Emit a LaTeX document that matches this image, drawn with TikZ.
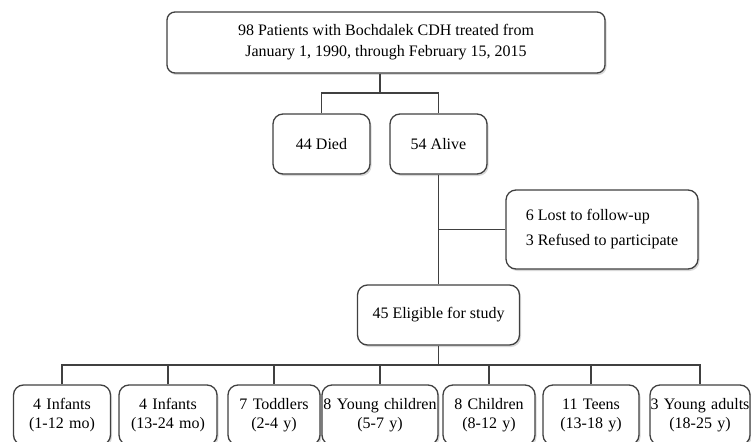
\documentclass[tikz,border=0pt]{standalone}
\usepackage{fontspec}
\setmainfont{Liberation Serif}
\usetikzlibrary{shadows}

\tikzset{
  box/.style={draw=black!75, line width=1.3pt, rounded corners=10pt, fill=white,
    drop shadow={shadow xshift=1.5pt, shadow yshift=-2pt, opacity=0.3},
    align=center, inner sep=0pt, minimum height=60pt,
    font=\fontsize{16}{21}\selectfont},
  agebox/.style={box, font=\fontsize{16}{19}\selectfont},
  link/.style={draw=black!75, line width=1.3pt},
}

\begin{document}
\begin{tikzpicture}[x=1pt,y=-1pt]
    \useasboundingbox (0,0) rectangle (751,441);

    % Cohort
    \node[box, minimum width=438pt, minimum height=61pt, rounded corners=8pt] (cohort) at (386,42.5)
        {98 Patients with Bochdalek CDH treated from\\ January 1, 1990, through February 15, 2015};

    % Outcome
    \node[box, minimum width=97pt] (died) at (321.5,144) {44 Died};
    \node[box, minimum width=97pt] (alive) at (438.5,144) {54 Alive};

    % Excluded
    \node[box, minimum width=192pt, minimum height=79pt, align=left,
          font=\fontsize{16}{25}\selectfont] (lost) at (602,229.5)
        {6 Lost to follow-up\\ 3 Refused to participate};

    % Study group
    \node[box, minimum width=162pt] (elig) at (438.5,315) {45 Eligible for study};

    % Age groups
    \node[agebox, minimum width=97pt, text width=97pt] (g1) at (62,415) {4 Infants\\ (1-12 mo)};
    \node[agebox, minimum width=98pt, text width=98pt] (g2) at (168,415) {4 Infants\\ (13-24 mo)};
    \node[agebox, minimum width=92pt, text width=92pt] (g3) at (274,415) {7 Toddlers\\ (2-4 y)};
    \node[agebox, minimum width=116pt, text width=116pt] (g4) at (380,415) {8 Young children\\ (5-7 y)};
    \node[agebox, minimum width=92pt, text width=92pt] (g5) at (489,415) {8 Children\\ (8-12 y)};
    \node[agebox, minimum width=96pt, text width=96pt] (g6) at (591,415) {11 Teens\\ (13-18 y)};
    \node[agebox, minimum width=100pt, text width=100pt] (g7) at (700,415) {3 Young adults\\ (18-25 y)};

    % Branch points
    \coordinate (split) at (380,93);
    \coordinate (bus) at (438.5,365);

    % Connectors
    \draw[link] (split |- cohort.south) -- (split);
    \draw[link] (died.north) |- (split) -| (alive.north);
    \draw[link] (alive.south) -- (elig.north);
    \draw[link] (lost.west) -- (lost.west -| alive.south);
    \draw[link] (elig.south) -- (bus);
    \draw[link] (g1.north) |- (bus) -| (g7.north);
    \foreach \i in {2,...,6}
        \draw[link] (g\i.north) -- (g\i.north |- bus);

\end{tikzpicture}
\end{document}
